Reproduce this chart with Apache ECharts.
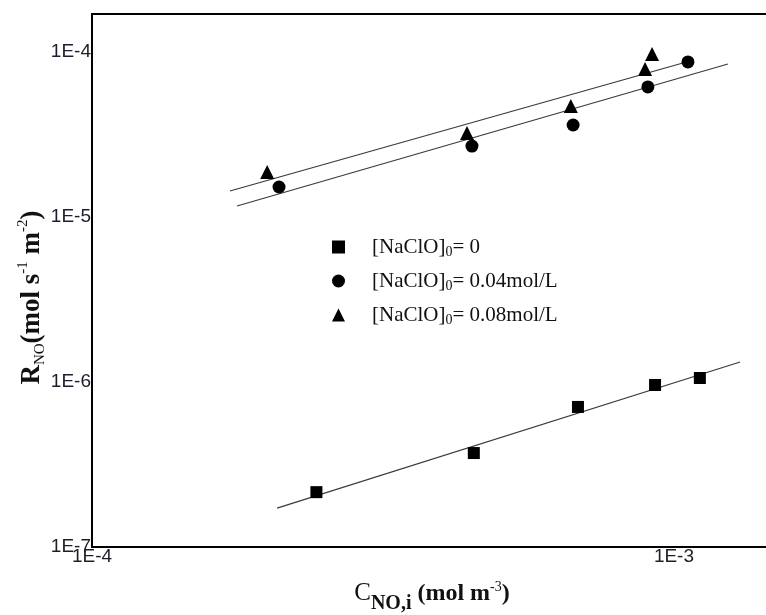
<!DOCTYPE html>
<html><head><meta charset="utf-8">
<script src="https://cdn.jsdelivr.net/npm/echarts@6/dist/echarts.min.js"></script>
<style>html,body{margin:0;padding:0;background:#fff}#c{width:766px;height:615px}</style>
</head><body><div id="c"></div>
<script>
// Series names
const seriesNames = ['[NaClO]0= 0', '[NaClO]0= 0.04mol/L', '[NaClO]0= 0.08mol/L'];
// [NaClO]0 = 0 (squares)
const xSq = [2.43e-4, 4.53e-4, 6.84e-4, 9.28e-4, 1.108e-3];
const ySq = [2.15e-7, 3.71e-7, 7.06e-7, 9.59e-7, 1.057e-6];
// [NaClO]0 = 0.04 mol/L (circles)
const xCi = [2.096e-4, 4.497e-4, 6.71e-4, 9.02e-4, 1.057e-3];
const yCi = [1.52e-5, 2.69e-5, 3.61e-5, 6.14e-5, 8.70e-5];
// [NaClO]0 = 0.08 mol/L (triangles)
const xTr = [2.00e-4, 4.41e-4, 6.65e-4, 8.92e-4, 9.17e-4];
const yTr = [1.874e-5, 3.23e-5, 4.71e-5, 7.89e-5, 9.72e-5];
// Fitted lines (endpoints)
const fitSqX = [2.08e-4, 1.299e-3], fitSqY = [1.72e-7, 1.322e-6];
const fitCiX = [1.775e-4, 1.238e-3], fitCiY = [1.166e-5, 8.46e-5];
const fitTrX = [1.726e-4, 1.036e-3], fitTrY = [1.437e-5, 8.58e-5];
// Axis ranges
const xRange = [1e-4, 1.474e-3];
const yRange = [1e-7, 1.699e-4];

const zip = (a, b) => a.map((v, i) => [v, b[i]]);
const powLabel = v => {
  const e = Math.log10(v);
  const r = Math.round(e);
  return Math.abs(e - r) < 1e-6 ? '1E' + r : '';
};

const chart = echarts.init(document.getElementById('c'), null, {renderer: 'canvas'});
const symbols = ['rect', 'circle', 'triangle'];
const sizes = [12, 13, 14];
const xs = [xSq, xCi, xTr], ys = [ySq, yCi, yTr];
const fits = [[fitSqX, fitSqY], [fitCiX, fitCiY], [fitTrX, fitTrY]];

const series = [];
fits.forEach(f => series.push({
  type: 'line', data: zip(f[0], f[1]), symbol: 'none', silent: true,
  lineStyle: {color: '#3a3a3a', width: 1.2}, z: 1
}));
seriesNames.forEach((n, i) => series.push({
  type: 'scatter', name: n, data: zip(xs[i], ys[i]), symbol: symbols[i], symbolSize: sizes[i],
  itemStyle: {color: '#000', opacity: 1}, z: 3
}));

const serif = 'Liberation Serif';
const tickColor = '#1d1d2b';
chart.setOption({
  animation: false,
  backgroundColor: '#fff',
  grid: {left: 92, top: 14, right: -6, bottom: 68, show: true, borderColor: '#000', borderWidth: 2,
    outerBoundsMode: 'none', containLabel: false},
  legend: {
    data: seriesNames.map((n, i) => ({name: n, icon: symbols[i], itemStyle: {opacity: 1}})),
    orient: 'vertical', left: 332, top: 235, padding: 0, itemGap: 10,
    itemWidth: 13, itemHeight: 13,
    formatter: n => n.replace(']0', ']{s|0}'),
    textStyle: {fontFamily: serif, fontSize: 21, color: '#111', lineHeight: 24, padding: [0, 0, 0, 22],
      rich: {s: {fontFamily: serif, fontSize: 14, verticalAlign: 'bottom', lineHeight: 12, color: '#111'}}}
  },
  xAxis: {
    type: 'log', logBase: 10, min: xRange[0], max: xRange[1],
    axisLine: {show: true, lineStyle: {color: '#000', width: 2}},
    axisTick: {show: false}, splitLine: {show: false}, minorTick: {show: false},
    axisLabel: {formatter: powLabel, fontFamily: 'Liberation Sans', fontSize: 19, color: tickColor, margin: 0},
    name: '{c|C}{sub|NO,i}{b| (mol m}{sup|-3}{b|)}',
    nameLocation: 'middle', nameGap: 33, nameMoveOverlap: false,
    nameTextStyle: {fontFamily: serif, fontSize: 24, color: '#111', rich: {
      c: {fontFamily: serif, fontSize: 25, lineHeight: 27, color: '#111'},
      b: {fontFamily: serif, fontSize: 24, fontWeight: 'bold', lineHeight: 27, color: '#111'},
      sub: {fontFamily: serif, fontSize: 20, fontWeight: 'bold', verticalAlign: 'bottom', lineHeight: 16, color: '#111', padding: [0, 0, -7, 0]},
      sup: {fontFamily: serif, fontSize: 14, verticalAlign: 'top', lineHeight: 14, color: '#111'}
    }}
  },
  yAxis: {
    type: 'log', logBase: 10, min: yRange[0], max: yRange[1],
    axisLine: {show: true, lineStyle: {color: '#000', width: 2}},
    axisTick: {show: false}, splitLine: {show: false}, minorTick: {show: false},
    axisLabel: {formatter: powLabel, fontFamily: 'Liberation Sans', fontSize: 19, color: tickColor, margin: 1, padding: [0, 0, 9, 0]},
    name: '{b|R}{sub|NO}{b|(mol s}{sup|-1}{b| m}{sup|-2}{b|)}',
    nameLocation: 'middle', nameGap: 44, nameRotate: 90, nameMoveOverlap: false,
    nameTextStyle: {fontFamily: serif, fontSize: 26, color: '#111', padding: [0, 34, 0, 0], rich: {
      b: {fontFamily: serif, fontSize: 27, fontWeight: 'bold', lineHeight: 32, color: '#111'},
      sub: {fontFamily: serif, fontSize: 15, verticalAlign: 'bottom', lineHeight: 14, color: '#111'},
      sup: {fontFamily: serif, fontSize: 15, verticalAlign: 'top', lineHeight: 14, color: '#111'}
    }}
  },
  series: series
});
</script>
</body></html>
